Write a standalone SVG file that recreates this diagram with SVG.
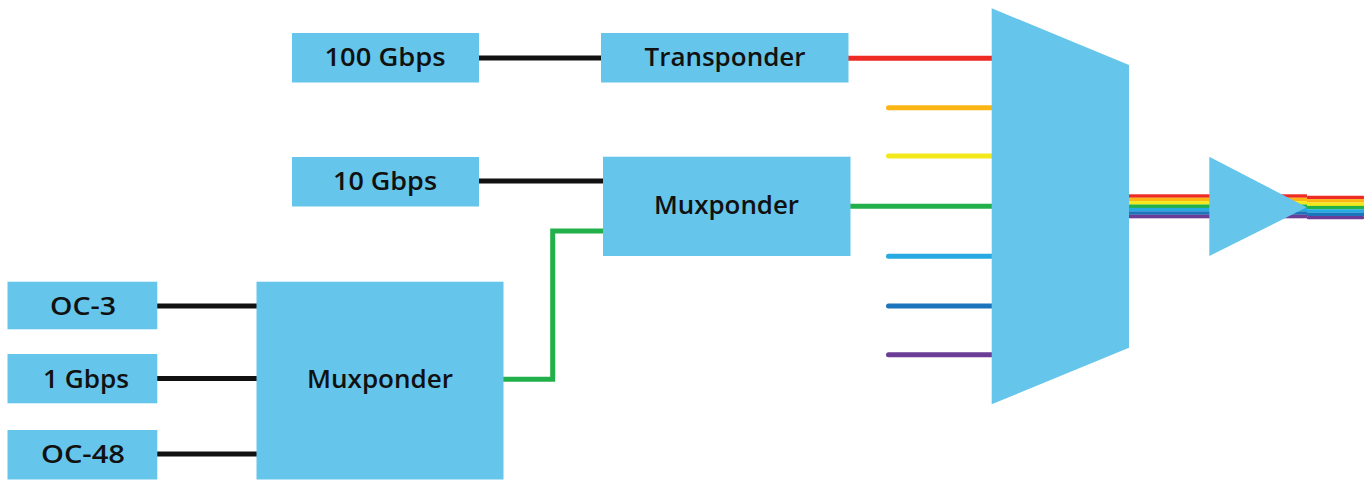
<svg xmlns="http://www.w3.org/2000/svg" width="1371" height="481" viewBox="0 0 1371 481">
  <style>
    .box { fill: #66c5ea; }
    .lbl { font-family: "Open Sans", "Liberation Sans", sans-serif; font-weight: 600; font-size: 26px; fill: #111; text-anchor: middle; }
    .wire { fill: none; stroke-width: 5; }
    .blk { stroke: #111; }
    .ch { stroke-linecap: round; }
  </style>

  <!-- connectors -->
  <g id="connectors">
    <line class="wire blk" x1="479" y1="58" x2="602" y2="58"/>
    <line class="wire blk" x1="479" y1="181" x2="604" y2="181"/>
    <line class="wire blk" x1="157" y1="306" x2="257" y2="306"/>
    <line class="wire blk" x1="157" y1="378.5" x2="257" y2="378.5"/>
    <line class="wire blk" x1="157" y1="454" x2="257" y2="454"/>
    <polyline class="wire" stroke="#22b04b" points="503,379.3 552.7,379.3 552.7,231 604,231"/>

    <!-- wavelength channels into the multiplexer -->
    <line class="wire" stroke="#ee2a24" x1="848" y1="58.3" x2="995" y2="58.3"/>
    <line class="wire ch" stroke="#fbb616" x1="888.5" y1="107.7" x2="995" y2="107.7"/>
    <line class="wire ch" stroke="#f2e81c" x1="888.5" y1="156" x2="995" y2="156"/>
    <line class="wire" stroke="#22b04b" x1="850" y1="206.3" x2="995" y2="206.3"/>
    <line class="wire ch" stroke="#27aae1" x1="888.5" y1="256.3" x2="995" y2="256.3"/>
    <line class="wire ch" stroke="#1c75bc" x1="888.5" y1="306" x2="995" y2="306"/>
    <line class="wire ch" stroke="#6b3d97" x1="888.5" y1="354.7" x2="995" y2="354.7"/>

    <!-- combined fibre bundle -->
    <g id="bundle-in">
      <rect x="1125" y="194.3" width="182" height="3.5" fill="#ee2a24"/>
      <rect x="1125" y="197.7" width="182" height="3.5" fill="#fbb616"/>
      <rect x="1125" y="201.1" width="182" height="3.5" fill="#f2e81c"/>
      <rect x="1125" y="204.5" width="182" height="3.5" fill="#22b04b"/>
      <rect x="1125" y="207.9" width="182" height="3.5" fill="#27aae1"/>
      <rect x="1125" y="211.3" width="182" height="3.5" fill="#1c75bc"/>
      <rect x="1125" y="214.7" width="182" height="3.6" fill="#6b3d97"/>
    </g>
    <g id="bundle-out">
      <rect x="1307" y="195.7" width="57" height="3.5" rx="1" fill="#ee2a24"/>
      <rect x="1307" y="199.1" width="57" height="3.5" fill="#fbb616"/>
      <rect x="1307" y="202.5" width="57" height="3.5" fill="#f2e81c"/>
      <rect x="1307" y="205.9" width="57" height="3.5" fill="#22b04b"/>
      <rect x="1307" y="209.3" width="57" height="3.5" fill="#27aae1"/>
      <rect x="1307" y="212.7" width="57" height="3.5" fill="#1c75bc"/>
      <rect x="1307" y="216.1" width="57" height="3.2" rx="1" fill="#6b3d97"/>
    </g>
  </g>

  <!-- client inputs -->
  <g id="n-100g">
    <rect class="box" x="292" y="33" width="187" height="49.5"/>
    <text class="lbl" x="385" y="66" textLength="121" lengthAdjust="spacingAndGlyphs">100 Gbps</text>
  </g>
  <g id="n-10g">
    <rect class="box" x="292" y="157" width="187" height="49.5"/>
    <text class="lbl" x="385" y="190" textLength="104" lengthAdjust="spacingAndGlyphs">10 Gbps</text>
  </g>
  <g id="n-oc3">
    <rect class="box" x="7.5" y="281.7" width="149.8" height="47.6"/>
    <text class="lbl" x="83" y="315" textLength="66" lengthAdjust="spacingAndGlyphs">OC-3</text>
  </g>
  <g id="n-1g">
    <rect class="box" x="7.5" y="354" width="149.8" height="49.3"/>
    <text class="lbl" x="86" y="387.5" textLength="86" lengthAdjust="spacingAndGlyphs">1 Gbps</text>
  </g>
  <g id="n-oc48">
    <rect class="box" x="7.5" y="430" width="149.8" height="49.5"/>
    <text class="lbl" x="83" y="463" textLength="84" lengthAdjust="spacingAndGlyphs">OC-48</text>
  </g>

  <!-- transponder / muxponders -->
  <g id="n-transponder">
    <rect class="box" x="601" y="33" width="247.5" height="49.5"/>
    <text class="lbl" x="725" y="66" textLength="161" lengthAdjust="spacingAndGlyphs">Transponder</text>
  </g>
  <g id="n-mux-top">
    <rect class="box" x="603" y="156.7" width="247.5" height="99.3"/>
    <text class="lbl" x="726.5" y="214" textLength="145" lengthAdjust="spacingAndGlyphs">Muxponder</text>
  </g>
  <g id="n-mux-bottom">
    <rect class="box" x="256.5" y="281.7" width="247" height="197.8"/>
    <text class="lbl" x="380" y="388" textLength="146" lengthAdjust="spacingAndGlyphs">Muxponder</text>
  </g>

  <!-- wavelength multiplexer -->
  <g id="n-mux-optical">
    <polygon class="box" points="991.7,8.3 1129,65 1129,347.7 991.7,404.3"/>
  </g>

  <!-- optical amplifier -->
  <g id="n-amplifier">
    <polygon class="box" points="1209.3,156.7 1306.7,207.3 1209.3,256"/>
  </g>
</svg>
